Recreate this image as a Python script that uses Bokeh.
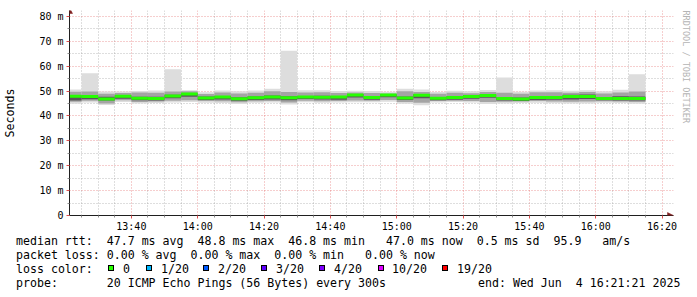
import pandas as pd
from bokeh.plotting import figure
from bokeh.models import (FixedTicker, Range1d, Title, Div, Arrow, NormalHead,
                          ColumnDataSource)
from bokeh.layouts import column
from bokeh.embed import file_html
from bokeh.resources import INLINE

# ---------------- data ----------------
graph_start = "2025-06-04 13:21:21"
graph_end = "2025-06-04 16:21:21"
step_seconds = 300
first_sample_end = "2025-06-04 13:25:00"
last_sample_end = "2025-06-04 16:15:00"

median_ms = [47.9, 47.8, 46.8, 47.9, 47.1, 47.0, 48.0, 48.8, 47.2, 47.6,
             46.9, 47.3, 47.6, 47.3, 47.6, 47.5, 47.6, 48.4, 47.4, 48.4,
             47.2, 48.3, 47.1, 47.4, 47.8, 48.2, 47.0, 46.8, 47.4, 47.4,
             47.8, 47.8, 47.0, 47.0, 47.0]
min_ms = [44.9, 45.4, 44.4, 45.6, 45.0, 45.2, 45.4, 45.6, 45.3, 45.2,
          44.8, 45.3, 45.4, 44.6, 45.5, 45.3, 45.4, 45.5, 45.5, 45.7,
          44.9, 44.3, 45.4, 45.6, 45.4, 44.8, 45.0, 45.2, 45.3, 45.1,
          45.0, 45.0, 45.3, 45.2, 44.9]
max_ms = [50.6, 57.1, 49.8, 49.8, 50.0, 50.2, 58.7, 50.3, 49.5, 50.2,
          49.9, 50.2, 50.9, 66.2, 50.3, 50.3, 50.0, 50.1, 50.0, 49.7,
          50.9, 50.6, 49.6, 50.1, 49.9, 50.4, 55.4, 49.7, 50.2, 50.3,
          50.1, 50.3, 49.9, 50.5, 56.7]
q_lo_ms = [45.7, 46.1, 45.0, 46.3, 45.6, 45.8, 46.1, 46.3, 46.0, 45.9,
           45.5, 45.9, 46.0, 45.4, 46.1, 45.9, 46.0, 46.2, 46.1, 46.4,
           45.6, 45.3, 46.0, 46.1, 46.0, 45.6, 45.7, 45.8, 46.0, 45.8,
           45.7, 45.8, 45.9, 45.8, 45.6]
q_hi_ms = [49.7, 49.8, 48.9, 49.2, 49.4, 49.3, 49.8, 49.9, 48.8, 49.4,
           49.0, 49.3, 49.9, 49.6, 49.4, 49.5, 49.2, 49.4, 49.2, 49.0,
           49.9, 49.6, 48.9, 49.3, 49.1, 49.6, 49.3, 48.9, 49.5, 49.5,
           49.3, 49.6, 49.0, 49.4, 49.8]
core_lo_ms = [46.2, 46.7, 46.2, 46.9, 46.3, 46.2, 47.1, 47.7, 46.4, 46.6,
              46.1, 46.4, 46.6, 46.3, 46.8, 46.6, 46.5, 47.4, 46.5, 47.5,
              46.4, 47.1, 46.3, 46.5, 46.9, 47.3, 46.2, 46.0, 46.4, 46.5,
              46.6, 46.8, 46.3, 46.2, 46.2]
core_hi_ms = [48.3, 48.2, 47.7, 48.3, 47.7, 47.7, 48.5, 49.1, 47.8, 48.0,
              47.5, 47.8, 48.2, 47.9, 48.0, 48.1, 48.0, 48.8, 47.9, 48.7,
              47.8, 48.7, 47.5, 47.9, 48.3, 48.6, 47.5, 47.4, 47.9, 47.9,
              48.5, 48.6, 47.6, 47.9, 47.8]
loss_count = [0] * 35

loss_levels = ["0", "1/20", "2/20", "3/20", "4/20", "10/20", "19/20"]
loss_level_colors = ["#26ff00", "#00b8ff", "#0059ff", "#5e00ff", "#7e00ff", "#dd00ff", "#ff0000"]
loss_level_counts = [0, 1, 2, 3, 4, 10, 19]

x_tick_labels = ["13:40", "14:00", "14:20", "14:40", "15:00", "15:20", "15:40", "16:00", "16:20"]
y_tick_values = [0, 10, 20, 30, 40, 50, 60, 70, 80]
y_tick_labels = ["0", "10 m", "20 m", "30 m", "40 m", "50 m", "60 m", "70 m", "80 m"]
y_minor_values = [5, 15, 25, 35, 45, 55, 65, 75]

stat_rtt = {"avg": "47.7", "max": "48.8", "min": "46.8", "now": "47.0", "sd": "0.5", "ams": "95.9"}
stat_loss = {"avg": "0.00", "max": "0.00", "min": "0.00", "now": "0.00"}
probe_text = "20 ICMP Echo Pings (56 Bytes) every 300s"
end_text = "end: Wed Jun  4 16:21:21 2025"
watermark = "RRDTOOL / TOBI OETIKER"

# ---------------- helpers / layout ----------------
def ms(ts):
    return pd.Timestamp(ts).value / 1e6

W, H = 697, 234
frame_left, frame_right_px, frame_top, frame_bottom = 66, 673, 10, 215
px_per_sec = 600 / (ms(graph_end) - ms(graph_start)) * 1000.0
x0 = ms(graph_start)
x1 = x0 + (frame_right_px - frame_left) / px_per_sec * 1000.0
px_per_ms = 2.49
y_top = (frame_bottom - frame_top) / px_per_ms

ends = pd.date_range(first_sample_end, last_sample_end, freq=f"{step_seconds}s")
right = [t.value / 1e6 for t in ends]
left = [r - step_seconds * 1000 for r in right]

def loss_color(n):
    c = loss_level_colors[0]
    for lv, col in zip(loss_level_counts, loss_level_colors):
        if n >= lv:
            c = col
    return c

src = ColumnDataSource(dict(left=left, right=right, med=median_ms, mn=min_ms, mx=max_ms,
                            qlo=q_lo_ms, qhi=q_hi_ms, clo=core_lo_ms, chi=core_hi_ms,
                            col=[loss_color(n) for n in loss_count]))

grid_col = "#8f8f8f"
mgrid_col = "#de4f4f"
axis_col = "#1f1f1f"
arrow_col = "#801f1f"
mono = "DejaVu Sans Mono"

p = figure(width=W, height=H, x_range=Range1d(x0, x1), y_range=Range1d(0, y_top),
           output_backend="svg", toolbar_location=None,
           min_border_left=frame_left, min_border_right=W - frame_right_px,
           min_border_top=frame_top, min_border_bottom=H - frame_bottom,
           background_fill_color="white", border_fill_color="white",
           outline_line_color=None)

day = graph_start[:10]
xt = [int(ms(f"{day} {t}:00")) for t in x_tick_labels]
minor = [int(ms(t)) for t in pd.date_range(f"{day} 13:25", f"{day} 16:20", freq="5min")]
minor = [m for m in minor if m not in xt]
p.xaxis.ticker = FixedTicker(ticks=xt, minor_ticks=minor)
p.xaxis.major_label_overrides = {k: v for k, v in zip(xt, x_tick_labels)}
p.yaxis.ticker = FixedTicker(ticks=y_tick_values, minor_ticks=y_minor_values)
p.yaxis.major_label_overrides = {k: v for k, v in zip(y_tick_values, y_tick_labels)}

for ax in (p.xaxis[0], p.yaxis[0]):
    ax.axis_line_color = axis_col
    ax.major_tick_in = 0
    ax.major_tick_out = 3
    ax.major_tick_line_color = mgrid_col
    ax.minor_tick_in = 0
    ax.minor_tick_out = 2
    ax.minor_tick_line_color = grid_col
    ax.major_label_text_font = mono
    ax.major_label_text_font_size = "10px"
    ax.major_label_text_color = "#000000"
p.xaxis.major_label_standoff = 2
p.yaxis.major_label_standoff = 3
p.yaxis.axis_label = "Seconds"
p.yaxis.axis_label_text_font = mono
p.yaxis.axis_label_text_font_size = "11.6px"
p.yaxis.axis_label_text_font_style = "normal"
p.yaxis.axis_label_text_color = "#000000"
p.yaxis.axis_label_standoff = 19

for g in (p.xgrid[0], p.ygrid[0]):
    g.grid_line_color = mgrid_col
    g.grid_line_alpha = 0.55
    g.grid_line_dash = "1 2"
    g.minor_grid_line_color = grid_col
    g.minor_grid_line_alpha = 0.6
    g.minor_grid_line_dash = "1 2"

# smoke
p.quad(left="left", right="right", bottom="mn", top="mx", source=src,
       fill_color="#dddddd", line_color=None)
p.quad(left="left", right="right", bottom="qlo", top="qhi", source=src,
       fill_color="#a4a4a4", line_color=None)
p.quad(left="left", right="right", bottom="clo", top="chi", source=src,
       fill_color="#585858", line_color=None)
# median
p.segment(x0="left", y0="med", x1="right", y1="med", source=src,
          line_color="col", line_width=3, line_cap="butt")

# axis arrows
p.add_layout(Arrow(end=NormalHead(size=6, fill_color=arrow_col, line_color=arrow_col, line_width=0.5),
                   x_start=x0, y_start=y_tick_values[-1], x_end=x0, y_end=(frame_bottom - 7) / px_per_ms,
                   line_alpha=0))
p.add_layout(Arrow(end=NormalHead(size=6, fill_color=arrow_col, line_color=arrow_col, line_width=0.5),
                   x_start=ms(graph_end), y_start=0, x_end=x1, y_end=0,
                   line_alpha=0))

p.add_layout(Title(text=watermark, align="left", vertical_align="top", text_font=mono,
                   text_font_size="8.5px", text_color="#b4b4b4", text_font_style="normal"), "right")

# ---------------- legend text ----------------
def span(x, top, text):
    return (f'<span style="position:absolute;left:{x}px;top:{top}px;">{text}</span>')

def box(x, top, color):
    return (f'<span style="position:absolute;left:{x}px;top:{top}px;width:6px;height:6px;'
            f'border:1px solid #000;background:{color};"></span>')

line1 = (f"median rtt:  {stat_rtt['avg']} ms avg  {stat_rtt['max']} ms max  {stat_rtt['min']} ms min"
         f"   {stat_rtt['now']} ms now  {stat_rtt['sd']} ms sd  {stat_rtt['ams']}   am/s")
line2 = (f"packet loss: {stat_loss['avg']} % avg  {stat_loss['max']} % max  {stat_loss['min']} % min"
         f"   {stat_loss['now']} % now")
line4 = f"probe:       {probe_text}"

box_x = [108, 146, 203, 261, 319, 378, 442]
label_x = [123, 161, 218, 276, 334, 392, 457]

parts = [span(16, 0, line1), span(16, 14, line2), span(16, 28, "loss color:")]
for bx, lx, lab, col in zip(box_x, label_x, loss_levels, loss_level_colors):
    parts.append(box(bx, 31, col))
    parts.append(span(lx, 28, lab))
parts.append(span(16, 42, line4))
parts.append(span(478, 42, end_text))

html = ('<div style="position:relative;width:697px;height:63px;font-family:\'DejaVu Sans Mono\',monospace;'
        'font-size:11.6px;line-height:14px;color:#000;white-space:pre;">' + "".join(parts) + '</div>')
div = Div(text=html, width=W, height=297 - H, margin=(0, 0, 0, 0))

layout = column(p, div, spacing=0)
open("out.html", "w").write(file_html(layout, INLINE))
